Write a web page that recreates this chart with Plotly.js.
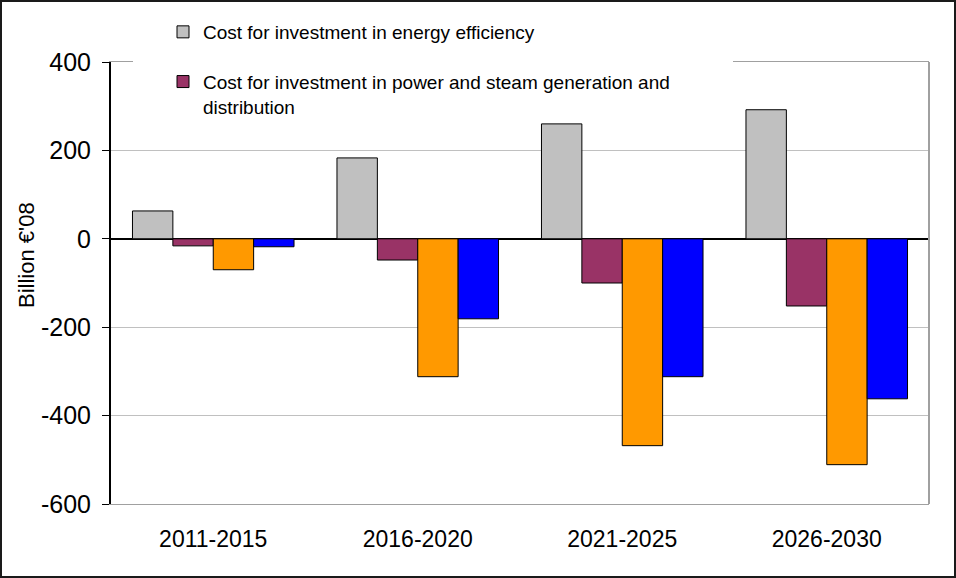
<!DOCTYPE html>
<html>
<head>
<meta charset="utf-8">
<script src="https://cdn.plot.ly/plotly-3.0.1.min.js"></script>
<style>
  html, body { margin: 0; padding: 0; background: #fff; }
  #chart { width: 956px; height: 578px; }
</style>
</head>
<body>
<div id="chart"></div>
<script>
// ---- data ----
const periods = ["2011-2015", "2016-2020", "2021-2025", "2026-2030"];
const effInvest = [63, 183, 260, 292];
const powerInvest = [-16, -48, -100, -152];
const series3 = [-70, -312, -468, -511];
const series4 = [-18, -181, -312, -362];
const yTickVals = [400, 200, 0, -200, -400, -600];
const yTickText = ["400", "200", "0", "-200", "-400", "-600"];
const yTitle = "Billion €'08";

// ---- layout helpers (pixel -> paper) ----
const W = 956, H = 578;
const L = 111, R = 929, T = 62, B = 504;
const pw = R - L, ph = B - T;
const px = x => (x - L) / pw;
const py = y => (B - y) / ph;

const FONT = "Liberation Sans, Arial, sans-serif";
const barLine = { color: "#000000", width: 1 };

const traces = [
  { type: "bar", name: "Cost for investment in energy efficiency", x: periods, y: effInvest,
    marker: { color: "#c0c0c0", line: barLine }, legendgroup: "a" },
  { type: "bar", name: "Cost for investment in power and steam generation and<br>distribution", x: periods, y: powerInvest,
    marker: { color: "#993366", line: barLine }, legendgroup: "b" },
  { type: "bar", name: "Series 3", x: periods, y: series3,
    marker: { color: "#ff9900", line: barLine }, showlegend: false },
  { type: "bar", name: "Series 4", x: periods, y: series4,
    marker: { color: "#0000ff", line: barLine }, showlegend: false }
];

const layout = {
  width: W, height: H,
  margin: { l: L, r: W - R, t: T, b: H - B, pad: 0 },
  paper_bgcolor: "#ffffff",
  plot_bgcolor: "#ffffff",
  font: { family: FONT, color: "#000000" },
  barmode: "group",
  bargap: 0.21,
  bargroupgap: 0,
  showlegend: true,
  legend: {
    x: px(163), xanchor: "left",
    y: py(13), yanchor: "top",
    bgcolor: "rgba(0,0,0,0)",
    font: { family: FONT, size: 19, color: "#000000" },
    tracegroupgap: 22,
    valign: "top",
    itemclick: false
  },
  xaxis: {
    type: "category",
    showgrid: false,
    showline: true, linecolor: "#a0a0a0", linewidth: 1, mirror: true,
    ticks: "", ticklabelstandoff: 14,
    tickfont: { family: FONT, size: 23, color: "#000000" },
    fixedrange: true
  },
  yaxis: {
    range: [-600, 400],
    tickmode: "array", tickvals: yTickVals, ticktext: yTickText,
    showgrid: true, gridcolor: "#c0c0c0", gridwidth: 1,
    zeroline: true, zerolinecolor: "#000000", zerolinewidth: 2,
    showline: true, linecolor: "#000000", linewidth: 2,
    ticks: "outside", ticklen: 7, tickcolor: "#000000", tickwidth: 1,
    ticklabelstandoff: 6,
    tickfont: { family: FONT, size: 25, color: "#000000" },
    automargin: false,
    fixedrange: true
  },
  annotations: [
    { text: yTitle, xref: "paper", yref: "paper", x: px(26), y: py(255),
      xanchor: "center", yanchor: "middle", textangle: -90, showarrow: false,
      font: { family: FONT, size: 22, color: "#000000" } }
  ],
  shapes: [
    // right plot border
    { type: "line", xref: "paper", yref: "paper", x0: 1, x1: 1, y0: 0, y1: 1,
      line: { color: "#a0a0a0", width: 2 }, layer: "above" },
    // white legend box covering top border
    { type: "rect", xref: "paper", yref: "paper", x0: px(133), x1: px(733), y0: py(115), y1: py(4),
      fillcolor: "#ffffff", line: { width: 0 }, layer: "above" },
    // outer chart border
    { type: "rect", xref: "paper", yref: "paper", x0: px(1), x1: px(955), y0: py(577), y1: py(1),
      line: { color: "#1a1a1a", width: 2 }, layer: "above" }
  ]
};

Plotly.newPlot("chart", traces, layout, { displayModeBar: false, staticPlot: true });
</script>
</body>
</html>
